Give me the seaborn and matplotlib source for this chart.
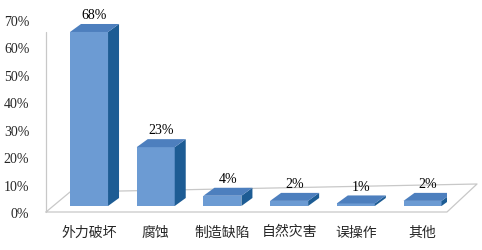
import matplotlib
matplotlib.use("Agg")
import matplotlib.pyplot as plt
from matplotlib.patches import Polygon
from matplotlib.lines import Line2D
import seaborn as sns
import pandas as pd

categories = ["外力破坏", "腐蚀", "制造缺陷", "自然灾害", "误操作", "其他"]
values = [68, 23, 4, 2, 1, 2]
tick_values = [0, 10, 20, 30, 40, 50, 60, 70]
tick_labels = [f"{v}%" for v in tick_values]
value_labels = [f"{v}%" for v in values]

sns.set_theme(style="white")
plt.rcParams["font.family"] = ["Liberation Serif", "DejaVu Serif"]

W, H = 482, 251
fig = plt.figure(figsize=(W / 100, H / 100), dpi=100)

def fx(px):
    return px / W

def fy(py):
    return 1 - py / H

left, right, top, bottom = 46, 447, 21, 213
pos = [fx(left), fy(bottom), fx(right) - fx(left), fy(top) - fy(bottom)]

# Axis carrying the percentage ticks (back wall)
ax_t = fig.add_axes(pos)
ax_t.set_ylim(0, 70)
ax_t.set_yticks(tick_values)
ax_t.set_yticklabels(tick_labels, fontsize=10, fontfamily="Liberation Serif")
ax_t.set_xticks([])
ax_t.tick_params(axis="y", length=0, pad=12)
for s in ax_t.spines.values():
    s.set_visible(False)
ax_t.patch.set_alpha(0)

# Floor and wall edges (decoration, behind the bars)
gray = "#c8c8c8"
floor = [(46, 213), (447, 213), (477, 185), (70, 193), (46, 213)]
ax_t.add_line(Line2D([fx(p[0]) for p in floor], [fy(p[1]) for p in floor],
                     color=gray, lw=0.9, transform=fig.transFigure, clip_on=False))
ax_t.add_line(Line2D([fx(46), fx(46)], [fy(33), fy(213)],
                     color=gray, lw=0.9, transform=fig.transFigure, clip_on=False))

# Bars
ax_b = fig.add_axes(pos)
ax_b.patch.set_alpha(0)
df = pd.DataFrame({"cat": categories, "val": values})
front = "#6C9BD3"
side = "#1D5C94"
topc = "#4D7FBE"
sns.barplot(data=df, x="cat", y="val", ax=ax_b, color=front, saturation=1,
            width=0.57, linewidth=0)
scale = 2.559
ax_b.set_xlim(-0.645, 5.367)
ax_b.set_ylim(-(bottom - 207) / scale, (207 - top) / scale)
dx = 11 / 66.7
dy = 8 / scale
for p, lab in zip(ax_b.patches, value_labels):
    x0 = p.get_x()
    w = p.get_width()
    h = p.get_height()
    y0 = p.get_y()
    x1 = x0 + w
    y1 = y0 + h
    ax_b.add_patch(Polygon([(x1, y0), (x1 + dx, y0 + dy), (x1 + dx, y1 + dy), (x1, y1)],
                           closed=True, facecolor=side, edgecolor="none", zorder=3))
    ax_b.add_patch(Polygon([(x0, y1), (x1, y1), (x1 + dx, y1 + dy), (x0 + dx, y1 + dy)],
                           closed=True, facecolor=topc, edgecolor="none", zorder=3))
    p.set_zorder(3)
    ax_b.annotate(lab, (x0 + w / 2 + dx / 2, y1 + dy), xytext=(0, 2),
                  textcoords="offset points", ha="center", va="bottom",
                  fontsize=10, fontfamily="Liberation Serif", color="black")

ax_b.set_xlabel("")
ax_b.set_ylabel("")
ax_b.set_yticks([])
ax_b.tick_params(axis="x", length=0, pad=9)
for t in ax_b.get_xticklabels():
    t.set_fontfamily(["Noto Sans CJK SC", "DejaVu Sans"])
    t.set_fontsize(10)
for s in ax_b.spines.values():
    s.set_visible(False)

fig.savefig("out.png", dpi=100)
